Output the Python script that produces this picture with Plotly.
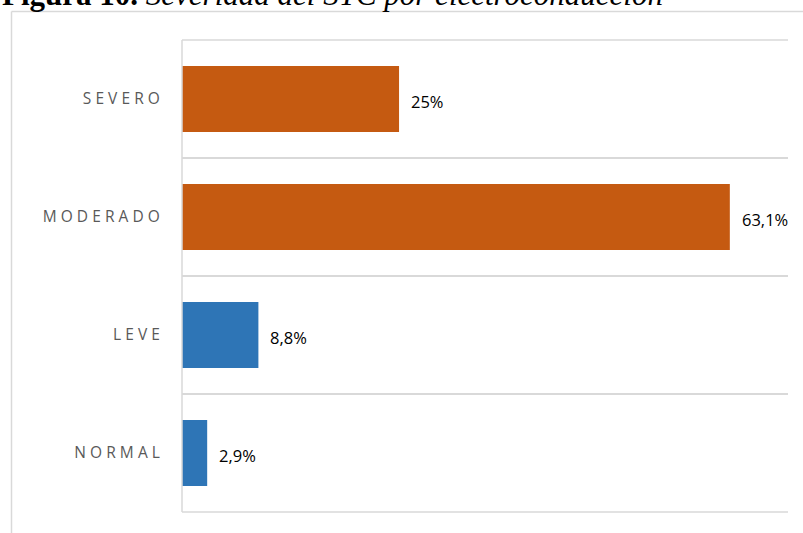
import plotly.graph_objects as go

categories = ["NORMAL", "LEVE", "MODERADO", "SEVERO"]
values = [2.9, 8.8, 63.1, 25.0]
colors = ["#2E75B6", "#2E75B6", "#C55A11", "#C55A11"]
labels = ["2,9%", "8,8%", "63,1%", "25%"]
title_bold = "Figura 10."
title_italic = "Severidad del STC por electroconducción"

W, H = 803, 533
L, R, T, B = 182, 15, 40, 21
pw, ph = W - L - R, H - T - B

def px(x):
    return (x - L) / pw

def py(y):
    return (H - B - y) / ph

fig = go.Figure()
fig.add_trace(go.Bar(
    x=values, y=categories, orientation="h",
    marker=dict(color=colors, line=dict(width=0)),
    width=0.56, hoverinfo="skip",
))

for v, c, t in zip(values, categories, labels):
    fig.add_annotation(x=v, y=c, text=t, showarrow=False, xanchor="left",
                       xshift=10, yshift=-2,
                       font=dict(family="Open Sans, Liberation Sans", size=16.5, color="#000000"))

ticktext = ['<span style="letter-spacing:4.1px">%s</span>' % c for c in categories]

grid = dict(color="#d9d9d9", width=1.5)

fig.update_layout(
    width=W, height=H,
    margin=dict(l=L, r=R, t=T, b=B, pad=0),
    paper_bgcolor="white", plot_bgcolor="white",
    showlegend=False,
    bargap=0.44,
    xaxis=dict(range=[0, 69.8], visible=False, fixedrange=True),
    yaxis=dict(
        type="category", categoryorder="array", categoryarray=categories,
        tickmode="array", tickvals=categories, ticktext=ticktext,
        tickson="boundaries", showgrid=True, gridcolor="#d9d9d9", gridwidth=1.5,
        showline=False, zeroline=False,
        ticks="", ticklabelstandoff=17,
        tickfont=dict(family="Open Sans, Liberation Sans", size=15.5, color="#595959"),
        range=[-0.5, 3.5], fixedrange=True,
    ),
    shapes=[
        dict(type="line", xref="paper", yref="paper", x0=0, x1=1, y0=1, y1=1, line=grid),
        dict(type="line", xref="paper", yref="paper", x0=0, x1=1, y0=0, y1=0, line=grid),
        dict(type="line", xref="paper", yref="paper", x0=0, x1=0, y0=0, y1=1, line=grid),
        dict(type="line", xref="paper", yref="paper", x0=px(11.5), x1=px(810),
             y0=py(11.5), y1=py(11.5), line=grid),
        dict(type="line", xref="paper", yref="paper", x0=px(11.5), x1=px(11.5),
             y0=py(11.5), y1=py(540), line=grid),
    ],
)

fig.add_annotation(
    xref="paper", yref="paper", x=px(0), y=py(7), xanchor="left", yanchor="bottom",
    text="<b>%s</b> <i>%s</i>" % (title_bold, title_italic), showarrow=False,
    font=dict(family="Liberation Serif", size=31, color="#000000"),
    yshift=-7,
)

fig.write_html("out.html")
